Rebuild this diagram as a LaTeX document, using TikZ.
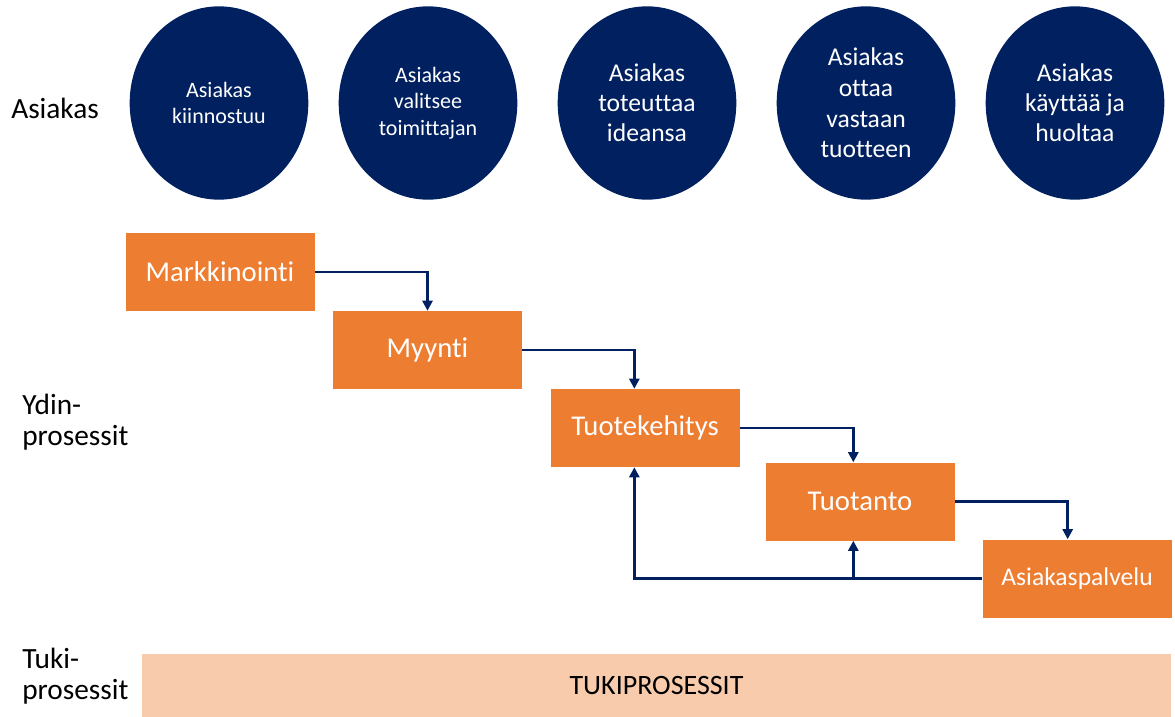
\documentclass[tikz,border=0pt]{standalone}
\usepackage{fontspec}
\setmainfont{Carlito}[Ligatures=NoCommon]
\usetikzlibrary{arrows.meta,calc,shapes.geometric}
\definecolor{navy}{HTML}{002060}
\definecolor{oranssi}{HTML}{ED7D31}
\definecolor{persikka}{HTML}{F8CBAD}

\begin{document}
\begin{tikzpicture}[x=0.75pt,y=-0.75pt,
  vaihe/.style={ellipse,fill=navy,text=white,minimum width=134pt,minimum height=145pt,inner sep=0pt,align=center},
  prosessi/.style={rectangle,fill=oranssi,text=white,minimum width=141.75pt,minimum height=58.5pt,inner sep=0pt,font=\fontsize{21.5}{26}\selectfont},
  nuoli/.style={-{Triangle[length=7.5pt,width=7.5pt]},navy,line width=2.1pt},
  otsikko/.style={anchor=west,align=left,inner sep=0pt,font=\fontsize{22}{23.5}\selectfont}]

\useasboundingbox (0,0) rectangle (1175,717);

% asiakkaan vaiheet
\node[vaihe,font=\fontsize{16.5}{20}\selectfont] (v1) at (219,103) {Asiakas\\kiinnostuu};
\node[vaihe,font=\fontsize{16.5}{20}\selectfont] (v2) at (428,103) {Asiakas\\valitsee\\toimittajan};
\node[vaihe,font=\fontsize{19.2}{22.5}\selectfont] (v3) at (647,103) {Asiakas\\toteuttaa\\ideansa};
\node[vaihe,font=\fontsize{19.2}{23}\selectfont] (v4) at (866,103) {Asiakas\\ottaa\\vastaan\\tuotteen};
\node[vaihe,font=\fontsize{19.2}{22.5}\selectfont] (v5) at (1075,103) {Asiakas\\käyttää ja\\huoltaa};

% rivien otsikot
\node[otsikko] (asiakas) at (11,108) {Asiakas};
\node[otsikko] (ydin) at (22,422) {Ydin-\\prosessit};
\node[otsikko] (tuki) at (22,676) {Tuki-\\prosessit};

% ydinprosessit
\node[prosessi] (mk) at (220,272) {Markkinointi};
\node[prosessi] (my) at (427.5,350) {Myynti};
\node[prosessi] (tk) at (645,428) {Tuotekehitys};
\node[prosessi] (tt) at (860,501.5) {Tuotanto};
\node[prosessi,font=\fontsize{19.2}{23}\selectfont] (ap) at (1077,578.5) {Asiakaspalvelu};

\coordinate (tk-yla) at ([xshift=-8pt]tk.north);
\coordinate (tk-ala) at ([xshift=-8pt]tk.south);
\coordinate (tt-yla) at ([xshift=-5pt]tt.north);
\coordinate (tt-ala) at ([xshift=-5pt]tt.south);
\coordinate (ap-yla) at ([xshift=-7pt]ap.north);

\draw[nuoli] (mk.east) -| (my.north);
\draw[nuoli] (my.east) -| (tk-yla);
\draw[nuoli] (tk.east) -| (tt-yla);
\draw[nuoli] (tt.east) -| (ap-yla);

% palaute
\draw[nuoli] (ap.west) -| (tk-ala);
\coordinate (haara) at (ap.west -| tt-ala);
\draw[nuoli] (haara) -- (tt-ala);

% tukiprosessit
\node[fill=persikka,minimum width=771.75pt,minimum height=47.25pt,inner sep=0pt,
  font=\fontsize{21}{25}\selectfont] (tp) at (656.5,685.5) {TUKIPROSESSIT};
\end{tikzpicture}
\end{document}
